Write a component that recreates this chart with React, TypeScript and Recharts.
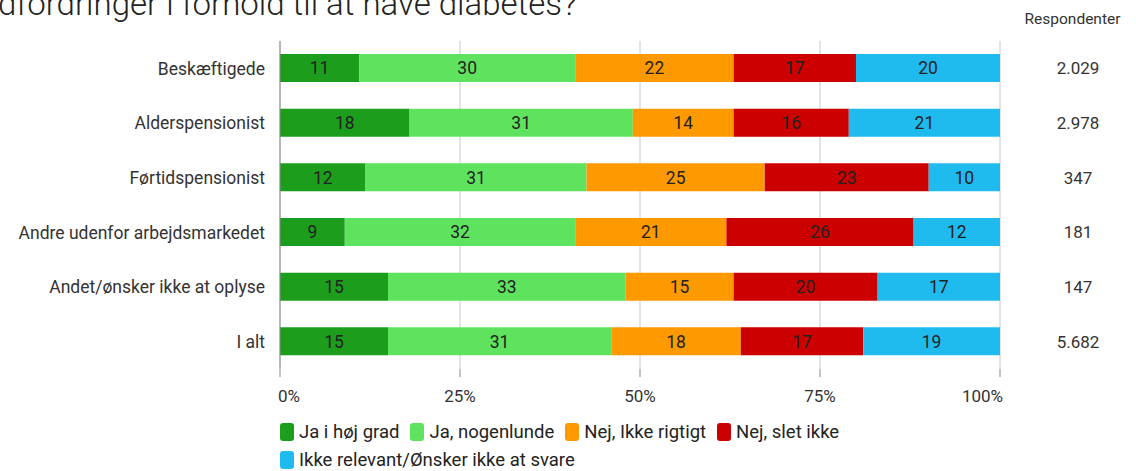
import { Bar, BarChart, CartesianGrid, LabelList, Legend, XAxis, YAxis } from "recharts"

const categories = [
  "Beskæftigede",
  "Alderspensionist",
  "Førtidspensionist",
  "Andre udenfor arbejdsmarkedet",
  "Andet/ønsker ikke at oplyse",
  "I alt",
]
const respondents = ["2.029", "2.978", "347", "181", "147", "5.682"]

const jaHoejGrad = [11, 18, 12, 9, 15, 15]
const jaNogenlunde = [30, 31, 31, 32, 33, 31]
const nejIkkeRigtigt = [22, 14, 25, 21, 15, 18]
const nejSletIkke = [17, 16, 23, 26, 20, 17]
const ikkeRelevant = [20, 21, 10, 12, 17, 19]

const xTicks = [0, 0.25, 0.5, 0.75, 1]
const xTickLabels = ["0%", "25%", "50%", "75%", "100%"]

const series = [
  { key: "jaHoej", name: "Ja i høj grad", color: "#1c9e1c" },
  { key: "jaNogen", name: "Ja, nogenlunde", color: "#5fe35f" },
  { key: "nejIkke", name: "Nej, Ikke rigtigt", color: "#ff9900" },
  { key: "nejSlet", name: "Nej, slet ikke", color: "#cc0000" },
  { key: "ikkeRel", name: "Ikke relevant/Ønsker ikke at svare", color: "#1fbbee" },
]

const data = categories.map((name, i) => ({
  name,
  resp: respondents[i],
  jaHoej: jaHoejGrad[i],
  jaNogen: jaNogenlunde[i],
  nejIkke: nejIkkeRigtigt[i],
  nejSlet: nejSletIkke[i],
  ikkeRel: ikkeRelevant[i],
}))

// end ticks are pulled inward, like the source chart
function XTick(props: any) {
  const { x, y, payload, index } = props
  const last = xTicks.length - 1
  const anchor = index === 0 ? "start" : index === last ? "end" : "middle"
  const dx = index === 0 ? -2 : index === last ? 3 : 0
  return (
    <text x={x + dx} y={y} dy="0.71em" textAnchor={anchor} fill="#333" fontSize={17}>
      {xTickLabels[xTicks.indexOf(payload.value)]}
    </text>
  )
}

function LegendContent() {
  return (
    <div style={{ display: "flex", flexWrap: "wrap", paddingLeft: 280, paddingTop: 9, width: 720 }}>
      {series.map((s) => (
        <div key={s.key} style={{ display: "flex", alignItems: "center", height: 28, marginRight: 11 }}>
          <span
            style={{ display: "inline-block", width: 14, height: 18, borderRadius: 3, background: s.color, marginRight: 5 }}
          />
          <span style={{ fontSize: 18.5, color: "#222" }}>{s.name}</span>
        </div>
      ))}
    </div>
  )
}

export default function App() {
  return (
    <div
      style={{
        position: "absolute",
        left: 0,
        top: 0,
        width: 1136,
        height: 471,
        overflow: "hidden",
        background: "#fff",
        fontFamily: "Roboto, sans-serif",
      }}
    >
      <div
        style={{
          position: "absolute",
          right: 1136 - 577,
          top: -13,
          fontSize: 33,
          lineHeight: "33px",
          fontWeight: 300,
          whiteSpace: "nowrap",
          color: "#222",
        }}
      >
        udfordringer i forhold til at have diabetes?
      </div>
      <div style={{ position: "absolute", left: 1000, width: 145, top: 10, textAlign: "center", fontSize: 15.5, color: "#333" }}>
        Respondenter
      </div>
      <BarChart
        width={1136}
        height={471}
        data={data}
        layout="vertical"
        stackOffset="expand"
        barSize={28}
        margin={{ top: 41, right: 0, bottom: 0, left: 0 }}
      >
        <CartesianGrid horizontal={false} stroke="#c8c8c8" />
        <XAxis
          type="number"
          domain={[0, 1]}
          ticks={xTicks}
          axisLine={false}
          tickLine={{ stroke: "#888" }}
          tickSize={8}
          tickMargin={13}
          height={40}
          tick={<XTick />}
        />
        <YAxis
          type="category"
          dataKey="name"
          width={280}
          tickLine={false}
          tickSize={0}
          tickMargin={15}
          axisLine={{ stroke: "#888" }}
          tick={{ fill: "#333", fontSize: 17.5 }}
        />
        <YAxis
          yAxisId="r"
          orientation="right"
          type="category"
          dataKey="resp"
          width={136}
          tickLine={false}
          axisLine={false}
          tickSize={0}
          tickMargin={78}
          tick={{ fill: "#333", fontSize: 17, textAnchor: "middle" }}
        />
        <Legend verticalAlign="bottom" height={62} content={<LegendContent />} />
        {series.map((s) => (
          <Bar key={s.key} dataKey={s.key} name={s.name} stackId="a" fill={s.color} isAnimationActive={false}>
            <LabelList dataKey={s.key} position="center" fill="#222" fontSize={17.5} />
          </Bar>
        ))}
      </BarChart>
    </div>
  )
}
